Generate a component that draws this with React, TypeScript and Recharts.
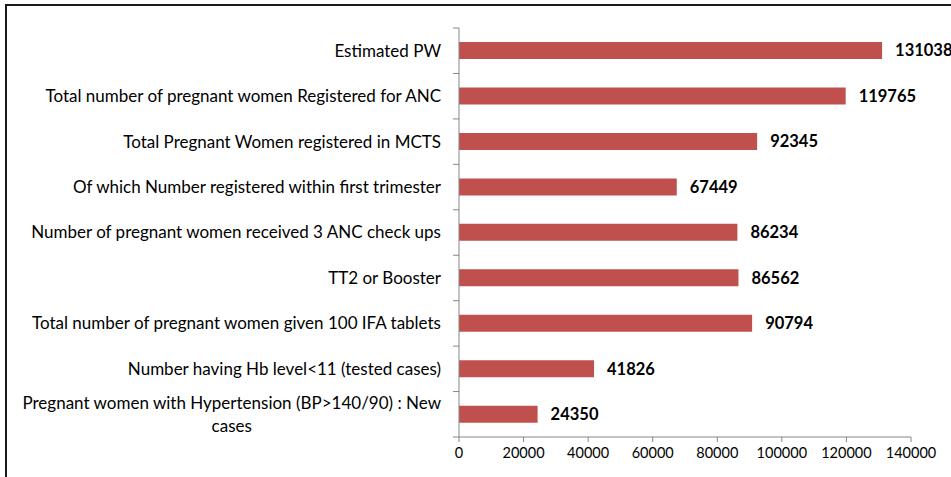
import { useLayoutEffect, useRef, useState } from 'react'
import { BarChart, Bar, XAxis, YAxis, LabelList } from 'recharts'

const categories = [
  'Estimated PW',
  'Total number of pregnant women Registered for ANC',
  'Total Pregnant Women registered in MCTS',
  'Of which Number registered within first trimester',
  'Number of pregnant women received 3 ANC check ups',
  'TT2 or Booster',
  'Total number of pregnant women given 100 IFA tablets',
  'Number having Hb level<11 (tested cases)',
  'Pregnant women with Hypertension (BP>140/90) : New cases',
]
const values = [131038, 119765, 92345, 67449, 86234, 86562, 90794, 41826, 24350]
const xTicks = [0, 20000, 40000, 60000, 80000, 100000, 120000, 140000]

const data = categories.map((name, i) => ({ name, value: values[i] }))

const W = 951
const H = 477
const TOP = 28
const X_AXIS_H = 40
const PLOT_H = H - TOP - X_AXIS_H
const BAND = PLOT_H / categories.length
const FONT = 'Lato, "Open Sans", sans-serif'
const AXIS_GRAY = '#868686'
const MAX_CHARS = 52

function wrap(label: string) {
  const lines: string[] = []
  let cur = ''
  for (const w of label.split(' ')) {
    const next = cur ? cur + ' ' + w : w
    if (next.length > MAX_CHARS && cur) {
      lines.push(cur)
      cur = w
    } else {
      cur = next
    }
  }
  if (cur) lines.push(cur)
  return lines
}

const CategoryTick = (props: any) => {
  const { x, y, payload, index } = props
  const lines = wrap(String(payload.value))
  const ref = useRef<SVGTextElement>(null)
  const [w, setW] = useState(0)
  useLayoutEffect(() => {
    if (ref.current && lines.length > 1) {
      const spans = Array.from(ref.current.querySelectorAll('tspan')) as SVGTSpanElement[]
      setW(Math.max(...spans.map(s => s.getComputedTextLength())))
    }
  }, [payload.value])
  const axisX = x + 5 + 13
  const lineH = 23
  const isLast = index === categories.length - 1
  const cx = w ? x - w / 2 : x
  return (
    <g>
      <line x1={axisX - 6} x2={axisX} y1={y - BAND / 2} y2={y - BAND / 2} stroke={AXIS_GRAY} />
      {isLast && (
        <line x1={axisX - 6} x2={axisX} y1={y + BAND / 2} y2={y + BAND / 2} stroke={AXIS_GRAY} />
      )}
      {lines.length === 1 ? (
        <text x={x} y={y} dy="0.35em" textAnchor="end" fontSize={17} fill="#000" fontFamily={FONT}>
          {lines[0]}
        </text>
      ) : (
        <text
          ref={ref}
          x={cx}
          y={y - ((lines.length - 1) * lineH) / 2}
          textAnchor={w ? 'middle' : 'end'}
          fontSize={17}
          fill="#000"
          fontFamily={FONT}
        >
          {lines.map((l, i) => (
            <tspan key={i} x={cx} dy={i === 0 ? '0.35em' : lineH}>
              {l}
            </tspan>
          ))}
        </text>
      )}
    </g>
  )
}

export default function App() {
  return (
    <div
      style={{
        position: 'fixed',
        left: 0,
        top: 0,
        width: W,
        height: H,
        background: '#fff',
        overflow: 'hidden',
      }}
    >
      <div
        style={{
          position: 'absolute',
          left: 5,
          top: 4,
          width: 1000,
          height: 1000,
          border: '2px solid #1a1a1a',
        }}
      />
      <div style={{ position: 'absolute', left: 0, top: 0 }}>
        <BarChart
          width={W}
          height={H}
          data={data}
          layout="vertical"
          margin={{ top: TOP, right: 40, bottom: 0, left: 0 }}
          barCategoryGap="31%"
        >
          <XAxis
            type="number"
            domain={[0, 140000]}
            ticks={xTicks}
            interval={0}
            height={X_AXIS_H}
            axisLine={{ stroke: AXIS_GRAY }}
            tickLine={{ stroke: AXIS_GRAY }}
            tickSize={5}
            tickMargin={6}
            tick={{ fill: '#000', fontSize: 14.5, fontFamily: FONT }}
          />
          <YAxis
            type="category"
            dataKey="name"
            width={459}
            interval={0}
            axisLine={{ stroke: AXIS_GRAY }}
            tickLine={false}
            tickSize={5}
            tickMargin={13}
            tick={<CategoryTick />}
          />
          <Bar dataKey="value" fill="#C0504D" isAnimationActive={false}>
            <LabelList
              dataKey="value"
              position="right"
              offset={13}
              fill="#000"
              fontSize={16.5}
              fontWeight="bold"
              fontFamily={FONT}
            />
          </Bar>
        </BarChart>
      </div>
    </div>
  )
}
